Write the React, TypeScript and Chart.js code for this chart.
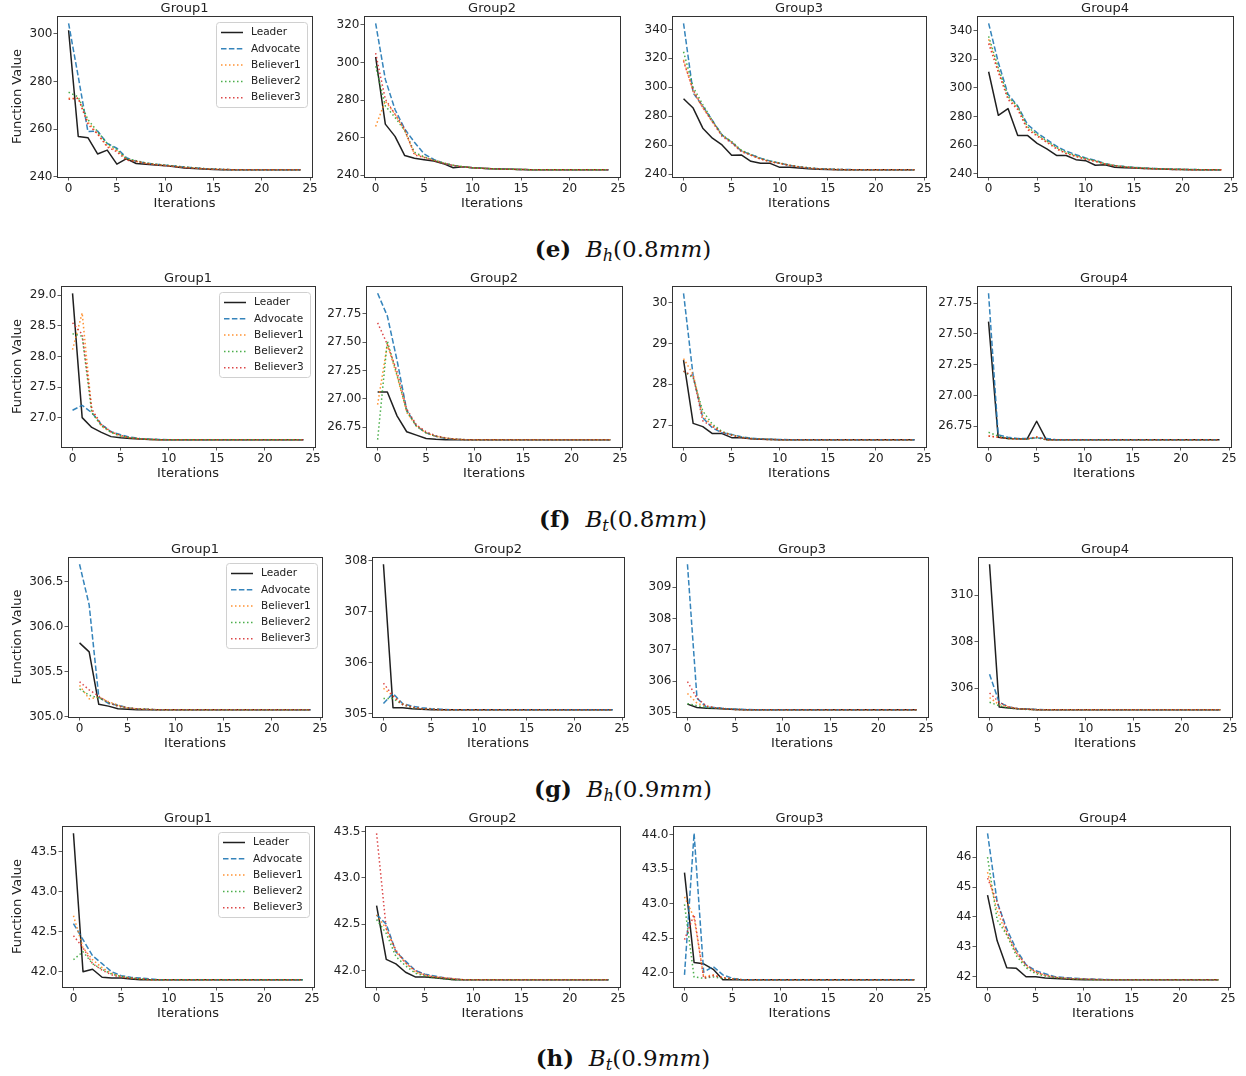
import React, { useEffect, useRef } from "react";
import { Chart, registerables } from "chart.js";
Chart.register(...registerables);
Chart.defaults.font.family = "'DejaVu Sans', sans-serif";

// ---------------- data ----------------
const ITERATIONS = [0, 1, 2, 3, 4, 5, 6, 7, 8, 9, 10, 11, 12, 13, 14, 15, 16, 17, 18, 19, 20, 21, 22, 23, 24];
const SERIES_NAMES = ["Leader", "Advocate", "Believer1", "Believer2", "Believer3"];
const GROUP_TITLES = ["Group1", "Group2", "Group3", "Group4"];
const X_TICKS = [0, 5, 10, 15, 20, 25];

// (e) B_h (0.8mm)
const bh08g1Leader = [301.5, 256.9, 256.4, 249.6, 251.2, 245.3, 247.6, 245.6, 245.3, 245.0, 244.7, 244.2, 243.7, 243.5, 243.3, 243.1, 243, 243, 243, 243, 243, 243, 243, 243, 243];
const bh08g1Advocate = [304.4, 282.0, 259.0, 259.2, 254.0, 252.0, 248.0, 246.5, 245.8, 245.3, 244.9, 244.5, 244.1, 243.8, 243.5, 243.3, 243.1, 243, 243, 243, 243, 243, 243, 243, 243];
const bh08g1Believer1 = [273.0, 273.0, 263.0, 258.0, 253.0, 251.0, 247.5, 246.5, 245.7, 245.2, 244.8, 244.4, 244.0, 243.7, 243.4, 243.2, 243.1, 243, 243, 243, 243, 243, 243, 243, 243];
const bh08g1Believer2 = [275.5, 273.5, 264.0, 259.0, 254.0, 251.5, 247.5, 246.8, 245.8, 245.3, 244.9, 244.5, 244.1, 243.8, 243.5, 243.3, 243.1, 243, 243, 243, 243, 243, 243, 243, 243];
const bh08g1Believer3 = [272.5, 273.0, 262.0, 258.0, 252.5, 250.5, 247.0, 246.5, 245.6, 245.1, 244.7, 244.3, 243.9, 243.6, 243.4, 243.2, 243.1, 243, 243, 243, 243, 243, 243, 243, 243];

const bh08g2Leader = [302.9, 267.2, 260.7, 250.5, 249.1, 248.3, 247.6, 246.2, 244.0, 244.5, 244.0, 243.7, 243.5, 243.3, 243.2, 243.1, 243, 243, 243, 243, 243, 243, 243, 243, 243];
const bh08g2Advocate = [320.8, 291.0, 275.0, 264.6, 257.6, 251.4, 248.4, 246.5, 245.3, 244.5, 244.0, 243.7, 243.5, 243.3, 243.2, 243.1, 243, 243, 243, 243, 243, 243, 243, 243, 243];
const bh08g2Believer1 = [266.0, 279.5, 272.5, 263.7, 251.4, 249.7, 248.0, 246.5, 245.3, 244.5, 244.0, 243.7, 243.5, 243.3, 243.2, 243.1, 243, 243, 243, 243, 243, 243, 243, 243, 243];
const bh08g2Believer2 = [298.0, 276.9, 270.8, 263.7, 252.3, 249.8, 248.0, 246.6, 245.4, 244.6, 244.0, 243.7, 243.5, 243.3, 243.2, 243.1, 243, 243, 243, 243, 243, 243, 243, 243, 243];
const bh08g2Believer3 = [305.0, 280.4, 272.5, 264.6, 250.9, 249.5, 247.8, 246.4, 245.2, 244.5, 244.0, 243.7, 243.5, 243.3, 243.2, 243.1, 243, 243, 243, 243, 243, 243, 243, 243, 243];

const bh08g3Leader = [292.0, 285.6, 271.7, 264.8, 260.1, 253.0, 253.2, 248.8, 247.4, 247.4, 244.6, 244.6, 244.2, 243.6, 243.3, 243.1, 243, 243, 243, 243, 243, 243, 243, 243, 243];
const bh08g3Advocate = [344.2, 296.0, 287.0, 277.0, 267.0, 262.0, 256.0, 253.5, 251.0, 249.0, 247.5, 246.0, 245.0, 244.2, 243.7, 243.4, 243.2, 243.1, 243, 243, 243, 243, 243, 243, 243];
const bh08g3Believer1 = [319.0, 297.0, 286.0, 276.0, 267.0, 262.0, 256.0, 253.0, 250.5, 248.5, 247.5, 246.0, 245.0, 244.2, 243.6, 243.3, 243.1, 243, 243, 243, 243, 243, 243, 243, 243];
const bh08g3Believer2 = [324.5, 300.0, 288.0, 277.0, 267.0, 262.5, 256.5, 253.5, 250.8, 248.8, 247.6, 246.1, 245.1, 244.3, 243.7, 243.4, 243.2, 243, 243, 243, 243, 243, 243, 243, 243];
const bh08g3Believer3 = [318.0, 298.0, 286.0, 276.0, 266.0, 261.5, 255.5, 253.0, 250.3, 248.4, 247.3, 245.9, 244.9, 244.1, 243.6, 243.3, 243.1, 243, 243, 243, 243, 243, 243, 243, 243];

const bh08g4Leader = [311.3, 280.9, 285.6, 266.9, 266.9, 261.3, 257.5, 252.9, 252.9, 250.0, 249.3, 246.1, 246.5, 244.7, 244.4, 244.2, 243.9, 243.6, 243.4, 243.2, 243.1, 243, 243, 243, 243];
const bh08g4Advocate = [345.1, 317.8, 295.6, 287.4, 274.6, 268.7, 264.0, 259.4, 255.9, 253.5, 251.2, 249.6, 247.2, 246.0, 245.2, 244.6, 244.2, 243.9, 243.6, 243.4, 243.2, 243.1, 243, 243, 243];
const bh08g4Believer1 = [334.0, 312.0, 293.0, 286.0, 272.0, 267.0, 262.5, 258.0, 254.5, 252.5, 250.5, 249.0, 247.0, 245.8, 245.0, 244.4, 244.0, 243.7, 243.5, 243.3, 243.1, 243, 243, 243, 243];
const bh08g4Believer2 = [336.0, 314.0, 294.0, 287.0, 273.0, 267.5, 263.0, 258.5, 255.0, 252.8, 250.8, 249.2, 247.1, 245.9, 245.1, 244.5, 244.1, 243.8, 243.5, 243.3, 243.2, 243.1, 243, 243, 243];
const bh08g4Believer3 = [331.0, 311.0, 292.0, 285.0, 271.0, 266.5, 262.0, 257.5, 254.2, 252.2, 250.3, 248.8, 246.9, 245.7, 244.9, 244.3, 243.9, 243.6, 243.4, 243.2, 243.1, 243, 243, 243, 243];

// (f) B_t (0.8mm)
const bt08g1Leader = [29.03, 27.0, 26.84, 26.76, 26.69, 26.67, 26.66, 26.65, 26.645, 26.64, 26.64, 26.64, 26.64, 26.64, 26.64, 26.64, 26.64, 26.64, 26.64, 26.64, 26.64, 26.64, 26.64, 26.64, 26.64];
const bt08g1Advocate = [27.12, 27.2, 27.08, 26.89, 26.77, 26.72, 26.68, 26.66, 26.65, 26.645, 26.64, 26.64, 26.64, 26.64, 26.64, 26.64, 26.64, 26.64, 26.64, 26.64, 26.64, 26.64, 26.64, 26.64, 26.64];
const bt08g1Believer1 = [28.11, 28.71, 27.11, 26.86, 26.76, 26.7, 26.67, 26.655, 26.645, 26.64, 26.64, 26.64, 26.64, 26.64, 26.64, 26.64, 26.64, 26.64, 26.64, 26.64, 26.64, 26.64, 26.64, 26.64, 26.64];
const bt08g1Believer2 = [28.37, 28.33, 27.08, 26.87, 26.76, 26.7, 26.67, 26.655, 26.645, 26.64, 26.64, 26.64, 26.64, 26.64, 26.64, 26.64, 26.64, 26.64, 26.64, 26.64, 26.64, 26.64, 26.64, 26.64, 26.64];
const bt08g1Believer3 = [28.55, 28.36, 27.14, 26.89, 26.77, 26.71, 26.67, 26.655, 26.645, 26.64, 26.64, 26.64, 26.64, 26.64, 26.64, 26.64, 26.64, 26.64, 26.64, 26.64, 26.64, 26.64, 26.64, 26.64, 26.64];

const bt08g2Leader = [27.06, 27.06, 26.85, 26.71, 26.68, 26.65, 26.644, 26.64, 26.64, 26.64, 26.64, 26.64, 26.64, 26.64, 26.64, 26.64, 26.64, 26.64, 26.64, 26.64, 26.64, 26.64, 26.64, 26.64, 26.64];
const bt08g2Advocate = [27.93, 27.73, 27.34, 26.9, 26.76, 26.7, 26.67, 26.65, 26.645, 26.64, 26.64, 26.64, 26.64, 26.64, 26.64, 26.64, 26.64, 26.64, 26.64, 26.64, 26.64, 26.64, 26.64, 26.64, 26.64];
const bt08g2Believer1 = [26.95, 27.48, 27.2, 26.88, 26.76, 26.7, 26.67, 26.655, 26.645, 26.64, 26.64, 26.64, 26.64, 26.64, 26.64, 26.64, 26.64, 26.64, 26.64, 26.64, 26.64, 26.64, 26.64, 26.64, 26.64];
const bt08g2Believer2 = [26.64, 27.51, 27.21, 26.89, 26.76, 26.7, 26.67, 26.655, 26.645, 26.64, 26.64, 26.64, 26.64, 26.64, 26.64, 26.64, 26.64, 26.64, 26.64, 26.64, 26.64, 26.64, 26.64, 26.64, 26.64];
const bt08g2Believer3 = [27.67, 27.48, 27.24, 26.91, 26.77, 26.71, 26.675, 26.655, 26.645, 26.64, 26.64, 26.64, 26.64, 26.64, 26.64, 26.64, 26.64, 26.64, 26.64, 26.64, 26.64, 26.64, 26.64, 26.64, 26.64];

const bt08g3Leader = [28.59, 27.04, 26.96, 26.79, 26.79, 26.69, 26.69, 26.66, 26.65, 26.645, 26.64, 26.64, 26.64, 26.64, 26.64, 26.64, 26.64, 26.64, 26.64, 26.64, 26.64, 26.64, 26.64, 26.64, 26.64];
const bt08g3Advocate = [30.23, 28.2, 27.18, 26.93, 26.81, 26.77, 26.71, 26.68, 26.66, 26.65, 26.645, 26.64, 26.64, 26.64, 26.64, 26.64, 26.64, 26.64, 26.64, 26.64, 26.64, 26.64, 26.64, 26.64, 26.64];
const bt08g3Believer1 = [28.63, 28.24, 27.22, 26.98, 26.83, 26.76, 26.7, 26.67, 26.655, 26.645, 26.64, 26.64, 26.64, 26.64, 26.64, 26.64, 26.64, 26.64, 26.64, 26.64, 26.64, 26.64, 26.64, 26.64, 26.64];
const bt08g3Believer2 = [28.32, 28.16, 27.34, 27.02, 26.84, 26.76, 26.7, 26.67, 26.655, 26.645, 26.64, 26.64, 26.64, 26.64, 26.64, 26.64, 26.64, 26.64, 26.64, 26.64, 26.64, 26.64, 26.64, 26.64, 26.64];
const bt08g3Believer3 = [28.32, 28.2, 27.1, 26.96, 26.82, 26.75, 26.69, 26.665, 26.65, 26.645, 26.64, 26.64, 26.64, 26.64, 26.64, 26.64, 26.64, 26.64, 26.64, 26.64, 26.64, 26.64, 26.64, 26.64, 26.64];

const bt08g4Leader = [27.6, 26.66, 26.65, 26.647, 26.645, 26.79, 26.64, 26.64, 26.64, 26.64, 26.64, 26.64, 26.64, 26.64, 26.64, 26.64, 26.64, 26.64, 26.64, 26.64, 26.64, 26.64, 26.64, 26.64, 26.64];
const bt08g4Advocate = [27.83, 26.68, 26.66, 26.65, 26.65, 26.655, 26.65, 26.64, 26.64, 26.64, 26.64, 26.64, 26.64, 26.64, 26.64, 26.64, 26.64, 26.64, 26.64, 26.64, 26.64, 26.64, 26.64, 26.64, 26.64];
const bt08g4Believer1 = [26.67, 26.66, 26.65, 26.647, 26.645, 26.665, 26.64, 26.64, 26.64, 26.64, 26.64, 26.64, 26.64, 26.64, 26.64, 26.64, 26.64, 26.64, 26.64, 26.64, 26.64, 26.64, 26.64, 26.64, 26.64];
const bt08g4Believer2 = [26.7, 26.67, 26.65, 26.647, 26.645, 26.655, 26.64, 26.64, 26.64, 26.64, 26.64, 26.64, 26.64, 26.64, 26.64, 26.64, 26.64, 26.64, 26.64, 26.64, 26.64, 26.64, 26.64, 26.64, 26.64];
const bt08g4Believer3 = [26.67, 26.66, 26.65, 26.647, 26.645, 26.66, 26.64, 26.64, 26.64, 26.64, 26.64, 26.64, 26.64, 26.64, 26.64, 26.64, 26.64, 26.64, 26.64, 26.64, 26.64, 26.64, 26.64, 26.64, 26.64];

// (g) B_h (0.9mm)
const bh09g1Leader = [305.82, 305.72, 305.14, 305.12, 305.09, 305.085, 305.08, 305.08, 305.08, 305.08, 305.08, 305.08, 305.08, 305.08, 305.08, 305.08, 305.08, 305.08, 305.08, 305.08, 305.08, 305.08, 305.08, 305.08, 305.08];
const bh09g1Advocate = [306.69, 306.24, 305.22, 305.15, 305.13, 305.1, 305.09, 305.085, 305.08, 305.08, 305.08, 305.08, 305.08, 305.08, 305.08, 305.08, 305.08, 305.08, 305.08, 305.08, 305.08, 305.08, 305.08, 305.08, 305.08];
const bh09g1Believer1 = [305.35, 305.2, 305.22, 305.17, 305.13, 305.1, 305.09, 305.085, 305.08, 305.08, 305.08, 305.08, 305.08, 305.08, 305.08, 305.08, 305.08, 305.08, 305.08, 305.08, 305.08, 305.08, 305.08, 305.08, 305.08];
const bh09g1Believer2 = [305.31, 305.24, 305.21, 305.16, 305.12, 305.1, 305.09, 305.085, 305.08, 305.08, 305.08, 305.08, 305.08, 305.08, 305.08, 305.08, 305.08, 305.08, 305.08, 305.08, 305.08, 305.08, 305.08, 305.08, 305.08];
const bh09g1Believer3 = [305.39, 305.3, 305.23, 305.16, 305.12, 305.1, 305.09, 305.085, 305.08, 305.08, 305.08, 305.08, 305.08, 305.08, 305.08, 305.08, 305.08, 305.08, 305.08, 305.08, 305.08, 305.08, 305.08, 305.08, 305.08];

const bh09g2Leader = [307.93, 305.12, 305.12, 305.1, 305.09, 305.08, 305.08, 305.08, 305.08, 305.08, 305.08, 305.08, 305.08, 305.08, 305.08, 305.08, 305.08, 305.08, 305.08, 305.08, 305.08, 305.08, 305.08, 305.08, 305.08];
const bh09g2Advocate = [305.2, 305.4, 305.2, 305.15, 305.12, 305.1, 305.09, 305.08, 305.08, 305.08, 305.08, 305.08, 305.08, 305.08, 305.08, 305.08, 305.08, 305.08, 305.08, 305.08, 305.08, 305.08, 305.08, 305.08, 305.08];
const bh09g2Believer1 = [305.5, 305.35, 305.2, 305.13, 305.1, 305.09, 305.08, 305.08, 305.08, 305.08, 305.08, 305.08, 305.08, 305.08, 305.08, 305.08, 305.08, 305.08, 305.08, 305.08, 305.08, 305.08, 305.08, 305.08, 305.08];
const bh09g2Believer2 = [305.3, 305.3, 305.18, 305.12, 305.1, 305.09, 305.08, 305.08, 305.08, 305.08, 305.08, 305.08, 305.08, 305.08, 305.08, 305.08, 305.08, 305.08, 305.08, 305.08, 305.08, 305.08, 305.08, 305.08, 305.08];
const bh09g2Believer3 = [305.6, 305.35, 305.18, 305.13, 305.1, 305.09, 305.08, 305.08, 305.08, 305.08, 305.08, 305.08, 305.08, 305.08, 305.08, 305.08, 305.08, 305.08, 305.08, 305.08, 305.08, 305.08, 305.08, 305.08, 305.08];

const bh09g3Leader = [305.26, 305.15, 305.13, 305.12, 305.1, 305.09, 305.08, 305.08, 305.08, 305.08, 305.08, 305.08, 305.08, 305.08, 305.08, 305.08, 305.08, 305.08, 305.08, 305.08, 305.08, 305.08, 305.08, 305.08, 305.08];
const bh09g3Advocate = [309.74, 305.45, 305.16, 305.15, 305.12, 305.1, 305.09, 305.08, 305.08, 305.08, 305.08, 305.08, 305.08, 305.08, 305.08, 305.08, 305.08, 305.08, 305.08, 305.08, 305.08, 305.08, 305.08, 305.08, 305.08];
const bh09g3Believer1 = [305.6, 305.29, 305.18, 305.14, 305.11, 305.09, 305.08, 305.08, 305.08, 305.08, 305.08, 305.08, 305.08, 305.08, 305.08, 305.08, 305.08, 305.08, 305.08, 305.08, 305.08, 305.08, 305.08, 305.08, 305.08];
const bh09g3Believer2 = [305.27, 305.21, 305.15, 305.13, 305.11, 305.09, 305.08, 305.08, 305.08, 305.08, 305.08, 305.08, 305.08, 305.08, 305.08, 305.08, 305.08, 305.08, 305.08, 305.08, 305.08, 305.08, 305.08, 305.08, 305.08];
const bh09g3Believer3 = [305.98, 305.45, 305.2, 305.14, 305.11, 305.09, 305.08, 305.08, 305.08, 305.08, 305.08, 305.08, 305.08, 305.08, 305.08, 305.08, 305.08, 305.08, 305.08, 305.08, 305.08, 305.08, 305.08, 305.08, 305.08];

const bh09g4Leader = [311.33, 305.2, 305.15, 305.12, 305.1, 305.08, 305.08, 305.08, 305.08, 305.08, 305.08, 305.08, 305.08, 305.08, 305.08, 305.08, 305.08, 305.08, 305.08, 305.08, 305.08, 305.08, 305.08, 305.08, 305.08];
const bh09g4Advocate = [306.6, 305.4, 305.2, 305.12, 305.1, 305.09, 305.08, 305.08, 305.08, 305.08, 305.08, 305.08, 305.08, 305.08, 305.08, 305.08, 305.08, 305.08, 305.08, 305.08, 305.08, 305.08, 305.08, 305.08, 305.08];
const bh09g4Believer1 = [305.6, 305.3, 305.2, 305.12, 305.1, 305.08, 305.08, 305.08, 305.08, 305.08, 305.08, 305.08, 305.08, 305.08, 305.08, 305.08, 305.08, 305.08, 305.08, 305.08, 305.08, 305.08, 305.08, 305.08, 305.08];
const bh09g4Believer2 = [305.4, 305.25, 305.15, 305.11, 305.09, 305.08, 305.08, 305.08, 305.08, 305.08, 305.08, 305.08, 305.08, 305.08, 305.08, 305.08, 305.08, 305.08, 305.08, 305.08, 305.08, 305.08, 305.08, 305.08, 305.08];
const bh09g4Believer3 = [305.8, 305.4, 305.2, 305.12, 305.1, 305.08, 305.08, 305.08, 305.08, 305.08, 305.08, 305.08, 305.08, 305.08, 305.08, 305.08, 305.08, 305.08, 305.08, 305.08, 305.08, 305.08, 305.08, 305.08, 305.08];

// (h) B_t (0.9mm)
const bt09g1Leader = [43.73, 42.0, 42.03, 41.93, 41.92, 41.92, 41.91, 41.9, 41.9, 41.9, 41.9, 41.9, 41.9, 41.9, 41.9, 41.9, 41.9, 41.9, 41.9, 41.9, 41.9, 41.9, 41.9, 41.9, 41.9];
const bt09g1Advocate = [42.6, 42.4, 42.2, 42.1, 42.0, 41.95, 41.93, 41.92, 41.91, 41.9, 41.9, 41.9, 41.9, 41.9, 41.9, 41.9, 41.9, 41.9, 41.9, 41.9, 41.9, 41.9, 41.9, 41.9, 41.9];
const bt09g1Believer1 = [42.7, 42.3, 42.15, 42.05, 41.98, 41.94, 41.92, 41.91, 41.9, 41.9, 41.9, 41.9, 41.9, 41.9, 41.9, 41.9, 41.9, 41.9, 41.9, 41.9, 41.9, 41.9, 41.9, 41.9, 41.9];
const bt09g1Believer2 = [42.15, 42.25, 42.1, 42.03, 41.97, 41.94, 41.92, 41.91, 41.9, 41.9, 41.9, 41.9, 41.9, 41.9, 41.9, 41.9, 41.9, 41.9, 41.9, 41.9, 41.9, 41.9, 41.9, 41.9, 41.9];
const bt09g1Believer3 = [42.45, 42.3, 42.1, 42.02, 41.96, 41.93, 41.92, 41.91, 41.9, 41.9, 41.9, 41.9, 41.9, 41.9, 41.9, 41.9, 41.9, 41.9, 41.9, 41.9, 41.9, 41.9, 41.9, 41.9, 41.9];

const bt09g2Leader = [42.7, 42.12, 42.07, 41.98, 41.93, 41.93, 41.92, 41.91, 41.9, 41.9, 41.9, 41.9, 41.9, 41.9, 41.9, 41.9, 41.9, 41.9, 41.9, 41.9, 41.9, 41.9, 41.9, 41.9, 41.9];
const bt09g2Advocate = [42.6, 42.5, 42.2, 42.1, 42.0, 41.96, 41.94, 41.92, 41.91, 41.9, 41.9, 41.9, 41.9, 41.9, 41.9, 41.9, 41.9, 41.9, 41.9, 41.9, 41.9, 41.9, 41.9, 41.9, 41.9];
const bt09g2Believer1 = [42.6, 42.45, 42.2, 42.08, 41.98, 41.95, 41.93, 41.92, 41.91, 41.9, 41.9, 41.9, 41.9, 41.9, 41.9, 41.9, 41.9, 41.9, 41.9, 41.9, 41.9, 41.9, 41.9, 41.9, 41.9];
const bt09g2Believer2 = [42.55, 42.4, 42.15, 42.05, 41.97, 41.94, 41.92, 41.91, 41.9, 41.9, 41.9, 41.9, 41.9, 41.9, 41.9, 41.9, 41.9, 41.9, 41.9, 41.9, 41.9, 41.9, 41.9, 41.9, 41.9];
const bt09g2Believer3 = [43.48, 42.45, 42.22, 42.08, 42.0, 41.95, 41.93, 41.92, 41.91, 41.9, 41.9, 41.9, 41.9, 41.9, 41.9, 41.9, 41.9, 41.9, 41.9, 41.9, 41.9, 41.9, 41.9, 41.9, 41.9];

const bt09g3Leader = [43.45, 42.15, 42.13, 42.05, 41.9, 41.9, 41.9, 41.9, 41.9, 41.9, 41.9, 41.9, 41.9, 41.9, 41.9, 41.9, 41.9, 41.9, 41.9, 41.9, 41.9, 41.9, 41.9, 41.9, 41.9];
const bt09g3Advocate = [41.97, 44.02, 42.01, 42.09, 41.97, 41.92, 41.9, 41.9, 41.9, 41.9, 41.9, 41.9, 41.9, 41.9, 41.9, 41.9, 41.9, 41.9, 41.9, 41.9, 41.9, 41.9, 41.9, 41.9, 41.9];
const bt09g3Believer1 = [43.1, 42.8, 41.94, 41.97, 41.93, 41.91, 41.9, 41.9, 41.9, 41.9, 41.9, 41.9, 41.9, 41.9, 41.9, 41.9, 41.9, 41.9, 41.9, 41.9, 41.9, 41.9, 41.9, 41.9, 41.9];
const bt09g3Believer2 = [42.99, 41.94, 41.92, 41.94, 41.92, 41.91, 41.9, 41.9, 41.9, 41.9, 41.9, 41.9, 41.9, 41.9, 41.9, 41.9, 41.9, 41.9, 41.9, 41.9, 41.9, 41.9, 41.9, 41.9, 41.9];
const bt09g3Believer3 = [42.48, 42.84, 41.92, 41.96, 41.93, 41.91, 41.9, 41.9, 41.9, 41.9, 41.9, 41.9, 41.9, 41.9, 41.9, 41.9, 41.9, 41.9, 41.9, 41.9, 41.9, 41.9, 41.9, 41.9, 41.9];

const bt09g4Leader = [44.73, 43.2, 42.3, 42.28, 42.0, 42.0, 41.96, 41.94, 41.92, 41.91, 41.9, 41.9, 41.9, 41.9, 41.9, 41.9, 41.9, 41.9, 41.9, 41.9, 41.9, 41.9, 41.9, 41.9, 41.9];
const bt09g4Advocate = [46.8, 44.5, 43.6, 42.9, 42.4, 42.2, 42.1, 42.0, 41.97, 41.95, 41.93, 41.92, 41.91, 41.9, 41.9, 41.9, 41.9, 41.9, 41.9, 41.9, 41.9, 41.9, 41.9, 41.9, 41.9];
const bt09g4Believer1 = [45.5, 44.2, 43.4, 42.8, 42.35, 42.15, 42.05, 41.98, 41.95, 41.93, 41.92, 41.91, 41.9, 41.9, 41.9, 41.9, 41.9, 41.9, 41.9, 41.9, 41.9, 41.9, 41.9, 41.9, 41.9];
const bt09g4Believer2 = [46.0, 43.9, 43.4, 42.7, 42.3, 42.1, 42.02, 41.97, 41.94, 41.92, 41.91, 41.9, 41.9, 41.9, 41.9, 41.9, 41.9, 41.9, 41.9, 41.9, 41.9, 41.9, 41.9, 41.9, 41.9];
const bt09g4Believer3 = [45.3, 44.5, 43.5, 42.8, 42.4, 42.15, 42.05, 41.98, 41.95, 41.93, 41.92, 41.91, 41.9, 41.9, 41.9, 41.9, 41.9, 41.9, 41.9, 41.9, 41.9, 41.9, 41.9, 41.9, 41.9];

// y tick labels per panel
const bh08g1YTicks = [240, 260, 280, 300];
const bh08g2YTicks = [240, 260, 280, 300, 320];
const bh08g3YTicks = [240, 260, 280, 300, 320, 340];
const bh08g4YTicks = [240, 260, 280, 300, 320, 340];
const bt08g1YTicks = [27.0, 27.5, 28.0, 28.5, 29.0];
const bt08g2YTicks = [26.75, 27.0, 27.25, 27.5, 27.75];
const bt08g3YTicks = [27, 28, 29, 30];
const bt08g4YTicks = [26.75, 27.0, 27.25, 27.5, 27.75];
const bh09g1YTicks = [305.0, 305.5, 306.0, 306.5];
const bh09g2YTicks = [305, 306, 307, 308];
const bh09g3YTicks = [305, 306, 307, 308, 309];
const bh09g4YTicks = [306, 308, 310];
const bt09g1YTicks = [42.0, 42.5, 43.0, 43.5];
const bt09g2YTicks = [42.0, 42.5, 43.0, 43.5];
const bt09g3YTicks = [42.0, 42.5, 43.0, 43.5, 44.0];
const bt09g4YTicks = [42, 43, 44, 45, 46];

// captions
const CAPTION_LETTERS = ["e", "f", "g", "h"];
const CAPTION_SUBS = ["h", "t", "h", "t"];
const CAPTION_SIZES = ["0.8", "0.8", "0.9", "0.9"];

const PANELS = [
  { row: 0, col: 0, series: [bh08g1Leader, bh08g1Advocate, bh08g1Believer1, bh08g1Believer2, bh08g1Believer3], yTicks: bh08g1YTicks, dec: 0 },
  { row: 0, col: 1, series: [bh08g2Leader, bh08g2Advocate, bh08g2Believer1, bh08g2Believer2, bh08g2Believer3], yTicks: bh08g2YTicks, dec: 0 },
  { row: 0, col: 2, series: [bh08g3Leader, bh08g3Advocate, bh08g3Believer1, bh08g3Believer2, bh08g3Believer3], yTicks: bh08g3YTicks, dec: 0 },
  { row: 0, col: 3, series: [bh08g4Leader, bh08g4Advocate, bh08g4Believer1, bh08g4Believer2, bh08g4Believer3], yTicks: bh08g4YTicks, dec: 0 },
  { row: 1, col: 0, series: [bt08g1Leader, bt08g1Advocate, bt08g1Believer1, bt08g1Believer2, bt08g1Believer3], yTicks: bt08g1YTicks, dec: 1 },
  { row: 1, col: 1, series: [bt08g2Leader, bt08g2Advocate, bt08g2Believer1, bt08g2Believer2, bt08g2Believer3], yTicks: bt08g2YTicks, dec: 2 },
  { row: 1, col: 2, series: [bt08g3Leader, bt08g3Advocate, bt08g3Believer1, bt08g3Believer2, bt08g3Believer3], yTicks: bt08g3YTicks, dec: 0 },
  { row: 1, col: 3, series: [bt08g4Leader, bt08g4Advocate, bt08g4Believer1, bt08g4Believer2, bt08g4Believer3], yTicks: bt08g4YTicks, dec: 2 },
  { row: 2, col: 0, series: [bh09g1Leader, bh09g1Advocate, bh09g1Believer1, bh09g1Believer2, bh09g1Believer3], yTicks: bh09g1YTicks, dec: 1 },
  { row: 2, col: 1, series: [bh09g2Leader, bh09g2Advocate, bh09g2Believer1, bh09g2Believer2, bh09g2Believer3], yTicks: bh09g2YTicks, dec: 0 },
  { row: 2, col: 2, series: [bh09g3Leader, bh09g3Advocate, bh09g3Believer1, bh09g3Believer2, bh09g3Believer3], yTicks: bh09g3YTicks, dec: 0 },
  { row: 2, col: 3, series: [bh09g4Leader, bh09g4Advocate, bh09g4Believer1, bh09g4Believer2, bh09g4Believer3], yTicks: bh09g4YTicks, dec: 0 },
  { row: 3, col: 0, series: [bt09g1Leader, bt09g1Advocate, bt09g1Believer1, bt09g1Believer2, bt09g1Believer3], yTicks: bt09g1YTicks, dec: 1 },
  { row: 3, col: 1, series: [bt09g2Leader, bt09g2Advocate, bt09g2Believer1, bt09g2Believer2, bt09g2Believer3], yTicks: bt09g2YTicks, dec: 1 },
  { row: 3, col: 2, series: [bt09g3Leader, bt09g3Advocate, bt09g3Believer1, bt09g3Believer2, bt09g3Believer3], yTicks: bt09g3YTicks, dec: 1 },
  { row: 3, col: 3, series: [bt09g4Leader, bt09g4Advocate, bt09g4Believer1, bt09g4Believer2, bt09g4Believer3], yTicks: bt09g4YTicks, dec: 0 },
];

// ---------------- layout / style ----------------
const ROWS = [
  { top: 16, bottom: 177, cols: [[57, 312], [364, 620], [672, 926], [977, 1233]] },
  { top: 286, bottom: 447, cols: [[61, 315], [366, 622], [672, 926], [977, 1231]] },
  { top: 557, bottom: 717, cols: [[68, 322], [372, 624], [676, 928], [978, 1232]] },
  { top: 826, bottom: 987, cols: [[62, 314], [365, 620], [673, 926], [976, 1230]] },
];
const CAPTION_BASELINES = [257, 527, 797, 1066];
const TP = 20;
const RP = 14;
const XH = 36;
const TEXT = "#222";
const COLORS = ["rgba(0,0,0,0.88)", "rgba(31,119,180,0.9)", "rgba(255,127,14,0.85)", "rgba(44,160,44,0.85)", "rgba(214,39,40,0.85)"];
const DASHES: number[][] = [[], [5.5, 2.4], [1.5, 2.5], [1.5, 2.5], [1.5, 2.5]];

const framePlugin = {
  id: "frame",
  afterDraw(chart: any, _args: any, opts: any) {
    const { ctx, chartArea: a } = chart;
    ctx.save();
    ctx.strokeStyle = "#333";
    ctx.lineWidth = 1;
    ctx.setLineDash([]);
    ctx.strokeRect(Math.round(a.left) + 0.5, Math.round(a.top) + 0.5, Math.round(a.right - a.left), Math.round(a.bottom - a.top));
    ctx.fillStyle = TEXT;
    ctx.font = "13px 'DejaVu Sans'";
    ctx.textAlign = "center";
    ctx.textBaseline = "alphabetic";
    ctx.fillText(opts.title, (a.left + a.right) / 2, a.top - 4);
    if (opts.legend) {
      const w = 91, h = 85;
      const lx = a.right - 5 - w, ly = a.top + 6;
      ctx.beginPath();
      (ctx as any).roundRect(lx + 0.5, ly + 0.5, w, h, 3);
      ctx.fillStyle = "rgba(255,255,255,0.85)";
      ctx.fill();
      ctx.strokeStyle = "#d0d0d0";
      ctx.lineWidth = 1;
      ctx.stroke();
      ctx.font = "10.5px 'DejaVu Sans'";
      ctx.textAlign = "left";
      ctx.textBaseline = "middle";
      for (let i = 0; i < SERIES_NAMES.length; i++) {
        const y = ly + 10.5 + i * 16.3;
        ctx.beginPath();
        ctx.setLineDash(DASHES[i]);
        ctx.strokeStyle = COLORS[i];
        ctx.lineWidth = 1.5;
        ctx.moveTo(lx + 5, y);
        ctx.lineTo(lx + 27, y);
        ctx.stroke();
        ctx.setLineDash([]);
        ctx.fillStyle = TEXT;
        ctx.fillText(SERIES_NAMES[i], lx + 35, y);
      }
    }
    ctx.restore();
  },
};

function Panel({ p }: { p: any }) {
  const ref = useRef<HTMLCanvasElement>(null);
  const row = ROWS[p.row];
  const [l, r] = row.cols[p.col];
  const first = p.col === 0;
  const YW = first ? l : 50;
  const cl = l - YW;
  const ct = row.top - TP;
  const cw = r - l + YW + RP;
  const ch = row.bottom - row.top + TP + XH;

  useEffect(() => {
    const all: number[] = p.series.flat();
    const mn = Math.min(...all);
    const mx = Math.max(...all);
    const m = (mx - mn) * 0.05;
    const chart = new Chart(ref.current as HTMLCanvasElement, {
      type: "line",
      data: {
        datasets: p.series.map((s: number[], i: number) => ({
          label: SERIES_NAMES[i],
          data: s.map((v, k) => ({ x: ITERATIONS[k], y: v })),
          borderColor: COLORS[i],
          borderWidth: 1.5,
          borderDash: DASHES[i],
          borderCapStyle: "butt",
          borderJoinStyle: "round",
          pointRadius: 0,
          tension: 0,
          fill: false,
          order: 4 - i,
        })),
      },
      options: {
        animation: false,
        responsive: false,
        events: [],
        layout: { padding: { top: TP, right: RP, left: 0, bottom: 0 } },
        plugins: {
          legend: { display: false },
          tooltip: { enabled: false },
          frame: { title: GROUP_TITLES[p.col], legend: first },
        } as any,
        scales: {
          x: {
            type: "linear",
            min: -1.2,
            max: 25.2,
            afterBuildTicks: (s: any) => {
              s.ticks = X_TICKS.map((v) => ({ value: v }));
            },
            afterFit: (s: any) => {
              s.height = XH;
            },
            ticks: { callback: (v: any) => String(v), font: { size: 12 }, color: TEXT, padding: 1.5, autoSkip: false, maxRotation: 0 },
            grid: { drawOnChartArea: false, drawTicks: true, tickLength: 3.5, color: "#333", lineWidth: 0.8 },
            border: { display: false },
            title: { display: true, text: "Iterations", font: { size: 13 }, color: TEXT, padding: { top: 0, bottom: 2 } },
          },
          y: {
            type: "linear",
            min: mn - m,
            max: mx + m,
            afterBuildTicks: (s: any) => {
              s.ticks = p.yTicks.map((v: number) => ({ value: v }));
            },
            afterFit: (s: any) => {
              s.width = YW;
            },
            ticks: { callback: (v: any) => Number(v).toFixed(p.dec), font: { size: 12 }, color: TEXT, padding: 1, autoSkip: false },
            grid: { drawOnChartArea: false, drawTicks: true, tickLength: 3.5, color: "#333", lineWidth: 0.8 },
            border: { display: false },
            title: { display: first, text: "Function Value", font: { size: 13 }, color: TEXT, padding: { top: 10.2, bottom: 0 } },
          },
        },
      } as any,
      plugins: [framePlugin as any],
    });
    return () => chart.destroy();
  }, []);

  return (
    <canvas
      ref={ref}
      width={cw}
      height={ch}
      style={{ position: "absolute", left: cl, top: ct, width: cw, height: ch }}
    />
  );
}

function Caption({ i }: { i: number }) {
  return (
    <div
      style={{
        position: "absolute",
        left: 0,
        top: CAPTION_BASELINES[i] - 20,
        width: 1246,
        textAlign: "center",
        fontFamily: "'DejaVu Serif', serif",
        fontSize: 23,
        lineHeight: "23px",
        color: "#111",
        whiteSpace: "nowrap",
      }}
    >
      <b>({CAPTION_LETTERS[i]})</b>
      <span>&nbsp;&nbsp;</span>
      <i>B</i>
      <sub style={{ fontSize: "0.7em", verticalAlign: "-0.25em", lineHeight: 0 }}>
        <i>{CAPTION_SUBS[i]}</i>
      </sub>
      <span>({CAPTION_SIZES[i]}</span>
      <i>mm</i>
      <span>)</span>
    </div>
  );
}

export default function App() {
  return (
    <div style={{ position: "absolute", left: 0, top: 0, width: 1246, height: 1076, background: "#fff", overflow: "hidden" }}>
      {PANELS.map((p, k) => (
        <Panel key={k} p={p} />
      ))}
      {CAPTION_LETTERS.map((_, i) => (
        <Caption key={i} i={i} />
      ))}
    </div>
  );
}
